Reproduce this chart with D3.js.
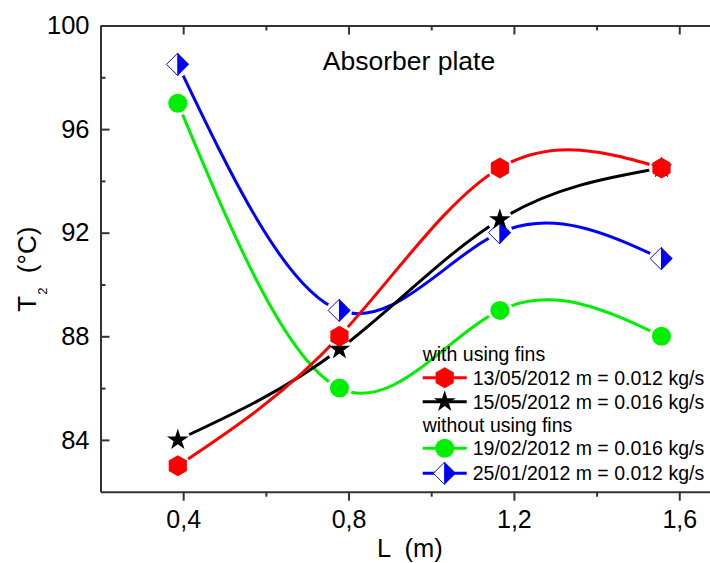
<!DOCTYPE html>
<html>
<head>
<meta charset="utf-8">
<script src="https://cdn.jsdelivr.net/npm/d3@7"></script>
<style>
  html, body { margin: 0; padding: 0; background: #fff; }
  svg { display: block; font-family: "Liberation Sans", Arial, sans-serif; }
  text { white-space: pre; }
</style>
</head>
<body>
<svg id="chart" width="710" height="563"></svg>
<script>
// ---- data ----
const L = [0.387, 0.778, 1.166, 1.557];
const redT = [83, 88, 94.5, 94.5];
const blackT = [84, 87.5, 92.5, 94.5];
const greenT = [97, 86, 89, 88];
const blueT = [98.5, 89, 92, 91];
const seriesNames = [
  "13/05/2012 m = 0.012 kg/s",
  "15/05/2012 m = 0.016 kg/s",
  "19/02/2012 m = 0.016 kg/s",
  "25/01/2012 m = 0.012 kg/s"
];
const groupHeaders = ["with using fins", "without using fins"];
const xTicks = [0.4, 0.8, 1.2, 1.6];
const xMinorTicks = [0.6, 1.0, 1.4];
const yTicks = [84, 88, 92, 96, 100];
const yMinorTicks = [86, 90, 94, 98];

(function () {
const series = [
  { name: seriesNames[0], values: redT, color: "#ff0000", symbol: "hex" },
  { name: seriesNames[1], values: blackT, color: "#000000", symbol: "star" },
  { name: seriesNames[2], values: greenT, color: "#00ee00", symbol: "circle" },
  { name: seriesNames[3], values: blueT, color: "#0000ff", symbol: "halfdiamond" }
];

const svg = d3.select("#chart");
const x = d3.scaleLinear().domain([0.2, 1.7]).range([100.5, 720.6]);
const y = d3.scaleLinear().domain([82, 100]).range([491.7, 25.5]);

const axisColor = "#333";

function drawMarker(g, type, color) {
  if (type === "hex") {
    const r = 10.5;
    const pts = d3.range(6).map(k => {
      const a = (-90 + 60 * k) * Math.PI / 180;
      return [r * Math.cos(a), r * Math.sin(a)];
    });
    g.append("path").attr("d", "M" + pts.join("L") + "Z").attr("fill", color);
  } else if (type === "star") {
    const R = 11.4, r = R * 0.382;
    const pts = d3.range(10).map(k => {
      const a = (-90 + 36 * k) * Math.PI / 180;
      const rr = k % 2 === 0 ? R : r;
      return [rr * Math.cos(a), rr * Math.sin(a)];
    });
    g.append("path").attr("d", "M" + pts.join("L") + "Z").attr("fill", color);
  } else if (type === "circle") {
    g.append("circle").attr("r", 9.5).attr("fill", color);
  } else if (type === "halfdiamond") {
    const h = 11.3;
    g.append("path").attr("d", `M0,${-h}L${-h},0L0,${h}Z`)
      .attr("fill", "#fff").attr("stroke", color).attr("stroke-width", 1);
    g.append("path").attr("d", `M0,${-h}L${h},0L0,${h}Z`).attr("fill", color);
  }
}

const defs = svg.append("defs");
defs.append("clipPath").attr("id", "plotclip")
  .append("rect").attr("x", x(0.2)).attr("y", y(100)).attr("width", x(1.7) - x(0.2)).attr("height", y(82) - y(100));

const line = d3.line().x(d => x(d[0])).y(d => y(d[1])).curve(d3.curveNatural);
const plot = svg.append("g").attr("clip-path", "url(#plotclip)");

// draw in reverse order so the first series sits on top
const drawOrder = series.map((s, i) => i).reverse();

drawOrder.forEach(i => {
  const s = series[i];
  const pts = L.map((lv, j) => [lv, s.values[j]]);
  const mask = defs.append("mask").attr("id", "m" + i).attr("maskUnits", "userSpaceOnUse")
    .attr("x", 0).attr("y", 0).attr("width", 710).attr("height", 563);
  mask.append("rect").attr("width", 710).attr("height", 563).attr("fill", "#fff");
  pts.forEach(p => mask.append("circle").attr("cx", x(p[0])).attr("cy", y(p[1])).attr("r", 12.5).attr("fill", "#000"));
  plot.append("path").datum(pts).attr("d", line)
    .attr("fill", "none").attr("stroke", s.color).attr("stroke-width", 3)
    .attr("mask", `url(#m${i})`);
});

drawOrder.forEach(i => {
  const s = series[i];
  L.forEach((lv, j) => {
    const g = plot.append("g").attr("transform", `translate(${x(lv)},${y(s.values[j])})`);
    drawMarker(g, s.symbol, s.color);
  });
});

const axG = svg.append("g");
function styleAxis(g) {
  g.select(".domain").attr("stroke", axisColor).attr("stroke-width", 2);
  g.selectAll(".tick line").attr("stroke", axisColor).attr("stroke-width", 2);
}
const axBottom = axG.append("g").attr("transform", `translate(0,${y(82)})`)
  .call(d3.axisBottom(x).tickValues(xTicks).tickSize(9).tickSizeOuter(0).tickPadding(10)
    .tickFormat(d => d3.format(".1f")(d).replace(".", ",")));
styleAxis(axBottom);
axBottom.selectAll(".tick text").attr("font-size", 25).attr("fill", "#000").attr("font-family", "Liberation Sans, Arial, sans-serif");
const axBottomMinor = axG.append("g").attr("transform", `translate(0,${y(82)})`)
  .call(d3.axisBottom(x).tickValues(xMinorTicks).tickSize(5).tickSizeOuter(0).tickFormat(""));
axBottomMinor.select(".domain").remove();
styleAxis(axBottomMinor);
const axTop = axG.append("g").attr("transform", `translate(0,${y(100)})`)
  .call(d3.axisTop(x).tickValues(xTicks).tickSize(-9).tickSizeOuter(0).tickFormat(""));
styleAxis(axTop);
const axTopMinor = axG.append("g").attr("transform", `translate(0,${y(100)})`)
  .call(d3.axisTop(x).tickValues(xMinorTicks).tickSize(-5).tickSizeOuter(0).tickFormat(""));
axTopMinor.select(".domain").remove();
styleAxis(axTopMinor);
const axLeft = axG.append("g").attr("transform", `translate(${x(0.2)},0)`)
  .call(d3.axisLeft(y).tickValues(yTicks).tickSize(-9).tickSizeOuter(0).tickFormat(d3.format("d")));
styleAxis(axLeft);
axLeft.selectAll(".tick text").attr("font-size", 25.5).attr("fill", "#000").attr("font-family", "Liberation Sans, Arial, sans-serif").attr("x", -11);
const axLeftMinor = axG.append("g").attr("transform", `translate(${x(0.2)},0)`)
  .call(d3.axisLeft(y).tickValues(yMinorTicks).tickSize(-5).tickSizeOuter(0).tickFormat(""));
axLeftMinor.select(".domain").remove();
styleAxis(axLeftMinor);

svg.append("text").attr("x", 409).attr("y", 70).attr("text-anchor", "middle")
  .attr("font-size", 26.5).attr("fill", "#000").text("Absorber plate");

svg.append("text").attr("x", 377).attr("y", 556.5).attr("font-size", 25.5)
  .attr("fill", "#000").text("L  (m)");

const yl = svg.append("text").attr("transform", "translate(36,311.7) rotate(-90)")
  .attr("font-size", 26).attr("fill", "#000");
yl.append("tspan").text("T");
yl.append("tspan").attr("font-size", 13).attr("dy", 11).attr("dx", 1).text("2");
yl.append("tspan").attr("dy", -11).text("  (°C)");

const lg = svg.append("g").attr("font-size", 19.5).attr("fill", "#000");
const lx0 = 422.7, lx1 = 466.7, tx = 472.7;
lg.append("text").attr("x", lx0).attr("y", 360.7).text(groupHeaders[0]);
lg.append("text").attr("x", lx0).attr("y", 431.7).text(groupHeaders[1]);
const rowY = [377.7, 401.7, 448.3, 473.3];
series.forEach((s, i) => {
  const ry = rowY[i];
  lg.append("line").attr("x1", lx0).attr("x2", lx1).attr("y1", ry).attr("y2", ry)
    .attr("stroke", s.color).attr("stroke-width", 3);
  const g = lg.append("g").attr("transform", `translate(${(lx0 + lx1) / 2},${ry})`);
  drawMarker(g, s.symbol, s.color);
  lg.append("text").attr("x", tx).attr("y", ry + 7).text(s.name);
});
})();
</script>
</body>
</html>
